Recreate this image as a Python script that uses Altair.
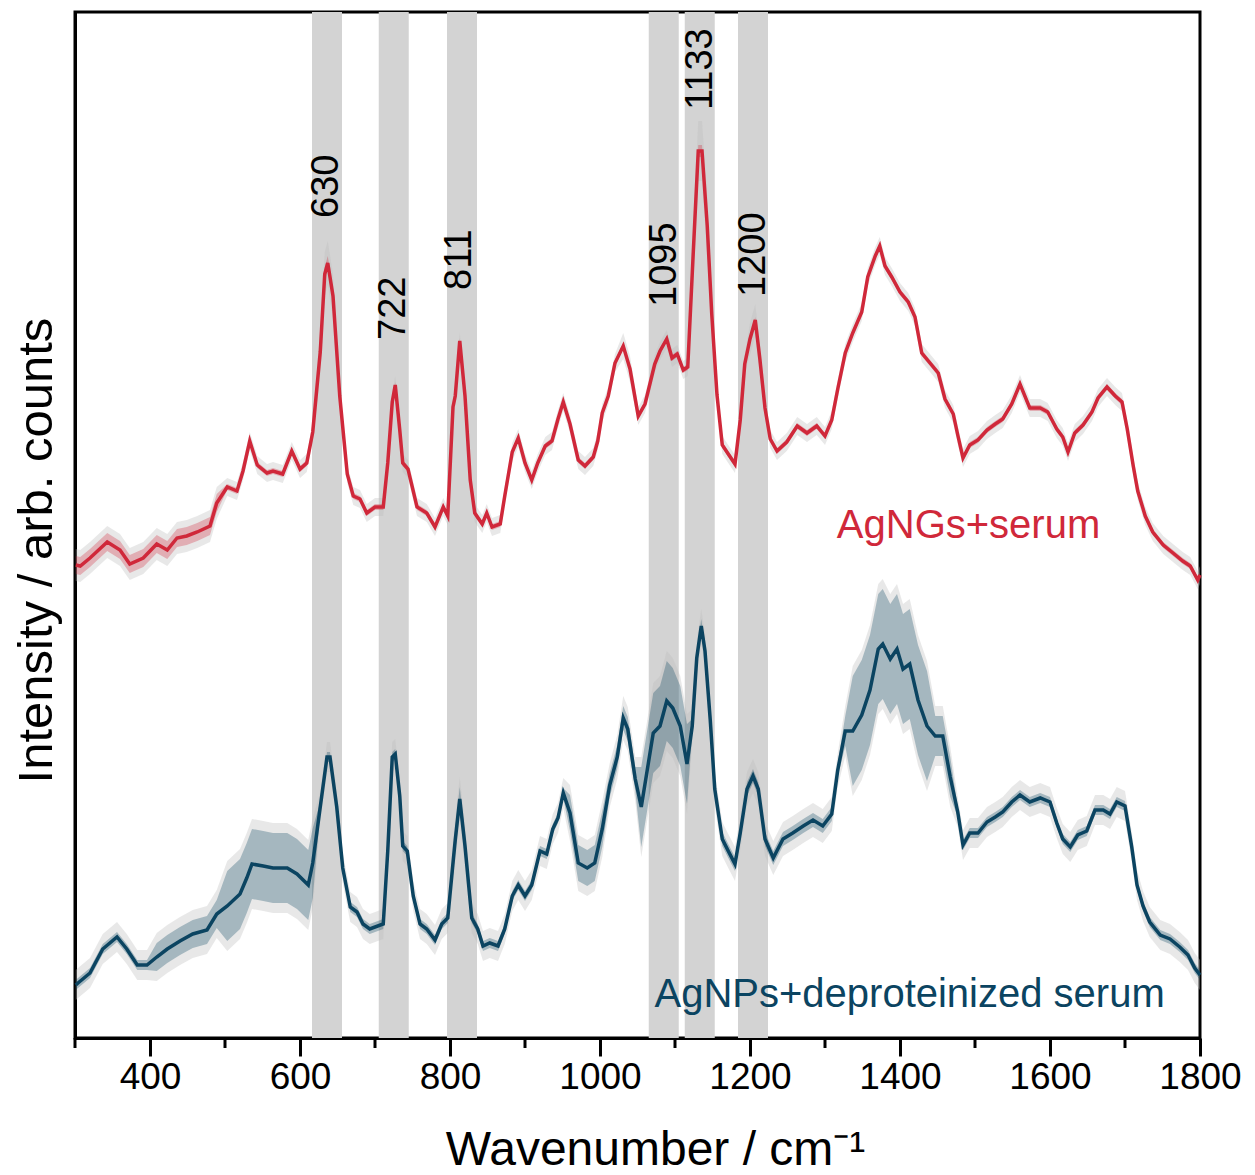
import altair as alt
import pandas as pd

# ---------------- data ----------------
red_wavenumber = [
    301, 307, 320, 343, 360, 373, 391, 409, 423, 436,
    449, 463, 480, 489, 503, 516, 524, 533, 543, 556,
    564, 577, 589, 600, 609, 617, 627, 633, 637, 644,
    653, 663, 671, 680, 689, 700, 711, 717, 723, 727,
    733, 737, 744, 756, 769, 780, 791, 797, 804, 807,
    813, 820, 827, 833, 843, 849, 856, 867, 873, 883,
    891, 900, 909, 917, 927, 936, 944, 951, 960, 971,
    980, 991, 997, 1003, 1011, 1020, 1031, 1040, 1051, 1060,
    1073, 1080, 1089, 1096, 1103, 1111, 1117, 1124, 1131, 1136,
    1143, 1149, 1156, 1163, 1171, 1180, 1187, 1193, 1200, 1207,
    1213, 1220, 1227, 1236, 1249, 1263, 1276, 1289, 1300, 1309,
    1317, 1327, 1337, 1349, 1357, 1367, 1373, 1380, 1389, 1400,
    1411, 1420, 1429, 1440, 1451, 1460, 1471, 1477, 1484, 1493,
    1504, 1516, 1527, 1537, 1549, 1560, 1573, 1587, 1597, 1609,
    1617, 1624, 1633, 1644, 1656, 1664, 1676, 1687, 1696, 1703,
    1711, 1717, 1727, 1737, 1751, 1764, 1777, 1787, 1797, 1800,
]
red_intensity = [
    473, 472, 480, 496, 488, 474, 480, 494, 488, 500,
    502, 506, 512, 535, 551, 547, 567, 597, 573, 565,
    567, 564, 587, 569, 575, 606, 686, 764, 775, 742,
    642, 564, 542, 539, 525, 531, 531, 575, 636, 653,
    608, 575, 569, 531, 525, 511, 531, 522, 631, 642,
    697, 642, 558, 525, 514, 525, 511, 514, 542, 586,
    600, 575, 558, 575, 592, 597, 619, 636, 614, 578,
    572, 581, 597, 625, 642, 675, 692, 669, 622, 634,
    674, 687, 699, 680, 684, 668, 671, 780, 887, 887,
    812, 724, 643, 593, 584, 574, 618, 674, 699, 718,
    680, 630, 599, 587, 596, 612, 605, 612, 602, 618,
    649, 685, 705, 726, 761, 782, 792, 772, 761, 746,
    736, 721, 685, 675, 665, 639, 624, 603, 580, 593,
    598, 608, 614, 619, 634, 654, 630, 630, 626, 609,
    601, 586, 605, 613, 626, 640, 651, 642, 636, 609,
    572, 547, 522, 506, 493, 485, 477, 472, 458, 463,
]
blue_wavenumber = [
    301, 304, 320, 337, 356, 369, 383, 396, 409, 423,
    440, 457, 476, 489, 503, 520, 529, 536, 551, 564,
    583, 596, 611, 617, 627, 636, 640, 649, 657, 667,
    676, 684, 693, 711, 717, 723, 727, 733, 737, 743,
    751, 760, 769, 780, 789, 797, 804, 807, 813, 820,
    829, 837, 844, 853, 864, 873, 883, 891, 900, 909,
    920, 929, 937, 944, 951, 960, 971, 983, 993, 1003,
    1013, 1023, 1031, 1037, 1047, 1055, 1063, 1071, 1080, 1089,
    1097, 1107, 1116, 1123, 1129, 1135, 1140, 1147, 1153, 1163,
    1171, 1180, 1187, 1196, 1204, 1211, 1220, 1231, 1244, 1257,
    1271, 1284, 1297, 1309, 1317, 1327, 1337, 1349, 1360, 1371,
    1377, 1387, 1396, 1404, 1413, 1424, 1436, 1447, 1457, 1467,
    1477, 1484, 1493, 1504, 1516, 1527, 1537, 1549, 1560, 1573,
    1587, 1600, 1609, 1617, 1627, 1637, 1649, 1660, 1671, 1680,
    1689, 1700, 1709, 1716, 1724, 1733, 1747, 1760, 1773, 1784,
    1793, 1800,
]
blue_intensity = [
    53, 55, 65, 89, 101, 89, 73, 73, 81, 89,
    97, 104, 108, 124, 132, 144, 160, 174, 172, 170,
    170, 164, 153, 175, 231, 281, 281, 231, 170, 131,
    126, 114, 109, 114, 187, 281, 284, 242, 192, 187,
    142, 114, 109, 98, 114, 120, 175, 198, 239, 192,
    120, 109, 92, 95, 92, 109, 142, 153, 142, 153,
    187, 184, 209, 220, 245, 225, 175, 170, 175, 209,
    253, 281, 320, 309, 259, 231, 268, 305, 312, 337,
    330, 312, 274, 312, 380, 412, 387, 318, 249, 199,
    187, 174, 205, 249, 262, 249, 199, 180, 199, 205,
    212, 218, 212, 224, 268, 307, 307, 323, 348, 389,
    394, 379, 389, 369, 374, 338, 312, 302, 302, 261,
    226, 193, 205, 205, 216, 221, 226, 236, 243, 236,
    240, 236, 215, 199, 191, 203, 207, 228, 228, 224,
    236, 232, 191, 153, 132, 116, 103, 99, 91, 83,
    70, 63,
]

# half-widths of the shaded bands: (from, to, half-width); later entries win
red_sd_regions = [(300, 490, 9), (490, 1800, 3), (625, 648, 7), (1125, 1142, 6)]
red_range_regions = [(300, 490, 16), (490, 1800, 9), (1025, 1040, 13),
                     (622, 650, 22), (1120, 1145, 30), (1195, 1215, 16)]
blue_sd_regions = [(300, 400, 5), (400, 490, 14), (490, 625, 35), (625, 800, 5),
                   (800, 825, 12), (825, 960, 5), (960, 1005, 18), (1005, 1050, 12),
                   (1050, 1120, 40), (1120, 1320, 7), (1320, 1335, 15),
                   (1335, 1445, 55), (1445, 1470, 20), (1470, 1800, 5)]
blue_range_margin = 10

band_start = [616, 705, 796, 1065, 1113, 1184]
band_end = [656, 745, 836, 1105, 1153, 1224]

peak_text = ["630", "722", "811", "1095", "1133", "1200"]
peak_text_x = [636, 725, 813, 1087, 1135, 1205]
peak_text_y = [820, 698, 748, 731, 928, 741]

series_names = ["AgNGs+serum", "AgNPs+deproteinized serum"]
series_label_x = [1667, 1753]
series_label_y = [500, 31]

minor_ticks = [300, 500, 700, 900, 1100, 1300, 1500, 1700]
major_ticks = [400, 600, 800, 1000, 1200, 1400, 1600, 1800]

RED = "#D0283A"
BLUE = "#0B4461"

# ---------------- build tables ----------------
def lookup(ws, regions, extra=0):
    out = []
    for w in ws:
        v = 0
        for a, b, val in regions:
            if a <= w <= b:
                v = val
        out.append(v + extra)
    return out


def make_df(ws, ys, sd, rng):
    return pd.DataFrame({
        "w": ws, "i": ys,
        "lo_in": [y - s for y, s in zip(ys, sd)],
        "hi_in": [y + s for y, s in zip(ys, sd)],
        "lo_out": [y - s for y, s in zip(ys, rng)],
        "hi_out": [y + s for y, s in zip(ys, rng)],
    })


red_df = make_df(red_wavenumber, red_intensity,
                 lookup(red_wavenumber, red_sd_regions),
                 lookup(red_wavenumber, red_range_regions))
blue_df = make_df(blue_wavenumber, blue_intensity,
                  lookup(blue_wavenumber, blue_sd_regions),
                  lookup(blue_wavenumber, blue_sd_regions, blue_range_margin))

band_df = pd.DataFrame({"w": band_start, "w2": band_end})
peak_df = pd.DataFrame({"w": peak_text_x, "i": peak_text_y, "label": peak_text})
minor_df = pd.DataFrame({"w": minor_ticks})

W, H = 1125, 1026
FONT = "Liberation Sans, Arial, Helvetica, sans-serif"

xs = alt.Scale(domain=[300, 1800], nice=False, zero=False)
ys = alt.Scale(domain=[0, 1026], nice=False, zero=False)
x_axis = alt.Axis(values=major_ticks, format="d", title="Wavenumber / cm⁻¹",
                  grid=False, tickSize=18, tickWidth=3, tickColor="black",
                  labelPadding=3, labelFontSize=37, labelFont=FONT, labelColor="black",
                  titleFontSize=48, titleFont=FONT, titleFontWeight="normal",
                  titleColor="black", titlePadding=31, titleX=580, labelFlush=False,
                  domainColor="black", domainWidth=3)
y_axis = alt.Axis(title="Intensity / arb. counts", labels=False, ticks=False,
                  grid=False, titleFontSize=49, titleFont=FONT,
                  titleFontWeight="normal", titleColor="black", titlePadding=14,
                  titleY=538, domainColor="black", domainWidth=3)

X = alt.X("w:Q", scale=xs, axis=x_axis)

bands = alt.Chart(band_df).mark_rect(color="#D3D3D3").encode(
    x=X, x2="w2:Q", y=alt.value(0), y2=alt.value(H))


def series_layers(df, color):
    outer = alt.Chart(df).mark_area(color="#BDBDBD", opacity=0.35).encode(
        x=X, y=alt.Y("lo_out:Q", scale=ys, axis=y_axis), y2="hi_out:Q")
    inner = alt.Chart(df).mark_area(color=color, opacity=0.3).encode(
        x=X, y=alt.Y("lo_in:Q", scale=ys, axis=y_axis), y2="hi_in:Q")
    line = alt.Chart(df).mark_line(color=color, strokeWidth=3.5).encode(
        x=X, y=alt.Y("i:Q", scale=ys, axis=y_axis))
    return outer, inner, line


r_out, r_in, r_line = series_layers(red_df, RED)
b_out, b_in, b_line = series_layers(blue_df, BLUE)

minor = alt.Chart(minor_df).mark_rule(color="black", strokeWidth=3).encode(
    x=X, y=alt.value(H), y2=alt.value(H + 10))

peaks = alt.Chart(peak_df).mark_text(angle=270, align="left", baseline="middle",
                                     fontSize=38, font=FONT, color="black").encode(
    x=X, y=alt.Y("i:Q", scale=ys, axis=y_axis), text="label:N")

red_lab = alt.Chart(pd.DataFrame({"w": [series_label_x[0]], "i": [series_label_y[0]],
                                  "t": [series_names[0]]})).mark_text(
    align="right", baseline="alphabetic", fontSize=40, font=FONT, color=RED).encode(
    x=X, y=alt.Y("i:Q", scale=ys, axis=y_axis), text="t:N")
blue_lab = alt.Chart(pd.DataFrame({"w": [series_label_x[1]], "i": [series_label_y[1]],
                                   "t": [series_names[1]]})).mark_text(
    align="right", baseline="alphabetic", fontSize=40, font=FONT, color=BLUE).encode(
    x=X, y=alt.Y("i:Q", scale=ys, axis=y_axis), text="t:N")

chart = alt.layer(
    bands, r_out, b_out, r_in, b_in, r_line, b_line, minor, peaks, red_lab, blue_lab
).properties(
    width=W, height=H,
    autosize=alt.AutoSizeParams(type="none"),
    padding={"left": 75, "top": 12, "right": 55, "bottom": 137},
    background="white",
).configure_view(
    stroke="black", strokeWidth=3
).configure_axis(
    domainColor="black", domainWidth=3, tickColor="black", tickWidth=3,
    labelColor="black", titleColor="black", labelFont=FONT, titleFont=FONT,
    titleFontWeight="normal"
)

chart.save("out.html", embed_options={"renderer": "svg", "actions": False})
